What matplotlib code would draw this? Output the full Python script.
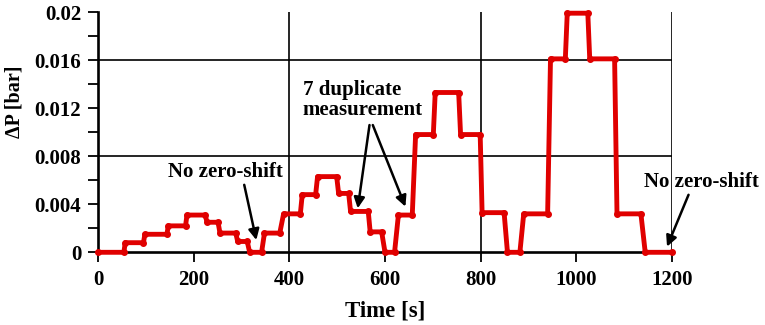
import matplotlib
matplotlib.use("Agg")
import matplotlib.pyplot as plt

# Breakpoints of the measured pressure-difference record (time [s], dP [bar])
time_s = [0, 54, 57, 95, 98, 144, 147, 183, 186, 224, 228, 251, 255, 288, 292,
          312, 317, 342, 348, 380, 388, 423, 427, 455, 459, 499, 503, 524, 528,
          565, 569, 593, 600, 620, 628, 657, 664, 701, 705, 754, 758, 799, 803,
          849, 856, 882, 890, 940, 946, 977, 981, 1024, 1028, 1080, 1085, 1135,
          1144, 1200]
dp_bar = [0, 0, 0.0008, 0.0008, 0.0015, 0.0015, 0.0022, 0.0022, 0.0031, 0.0031,
          0.0025, 0.0025, 0.0016, 0.0016, 0.0009, 0.0009, 0, 0, 0.0016, 0.0016,
          0.0032, 0.0032, 0.0048, 0.0048, 0.0063, 0.0063, 0.0049, 0.0049, 0.0034,
          0.0034, 0.0017, 0.0017, 0, 0, 0.0031, 0.0031, 0.0098, 0.0098, 0.0133,
          0.0133, 0.0098, 0.0098, 0.0033, 0.0033, 0, 0, 0.0032, 0.0032, 0.0161,
          0.0161, 0.0199, 0.0199, 0.0161, 0.0161, 0.0032, 0.0032, 0, 0]

x_ticks = [0, 200, 400, 600, 800, 1000, 1200]
y_ticks = [0, 0.004, 0.008, 0.012, 0.016, 0.02]
y_tick_labels = ["0", "0.004", "0.008", "0.012", "0.016", "0.02"]
x_grid = [400, 800, 1200]
y_grid = [0.008, 0.016]

plt.rcParams['font.family'] = ['Liberation Serif', 'DejaVu Serif']
plt.rcParams['font.weight'] = 'bold'

fig = plt.figure(figsize=(7.65, 3.25), dpi=100)
ax = fig.add_axes([98/765, 1-252.3/325, (672-98)/765, (252.3-12)/325])

for xg in x_grid:
    ax.axvline(xg, color='black', lw=1.2, zorder=1)
for yg in y_grid:
    ax.axhline(yg, color='black', lw=1.2, zorder=1)

ax.plot(time_s, dp_bar, color='#e00000', lw=3.5, marker='o', markersize=4,
        solid_joinstyle='round', solid_capstyle='round', zorder=3, clip_on=False)

ax.set_xlim(0, 1200)
ax.set_ylim(0, 0.02)
ax.set_xticks(x_ticks)
ax.set_xticklabels([str(v) for v in x_ticks])
ax.set_yticks(y_ticks)
ax.set_yticklabels(y_tick_labels)
ax.set_yticks([0.002, 0.006, 0.010, 0.014, 0.018], minor=True)

for s in ['top', 'right']:
    ax.spines[s].set_visible(False)
for s in ['left', 'bottom']:
    ax.spines[s].set_linewidth(1.9)
    ax.spines[s].set_zorder(2)

ax.tick_params(axis='both', which='both', direction='out', length=7, width=1.3,
               labelsize=15)
ax.tick_params(axis='x', pad=6)
ax.tick_params(axis='y', pad=5)
for lab in ax.get_xticklabels() + ax.get_yticklabels():
    lab.set_fontweight('bold')

fig.text(385/765, 1-311/325, "Time [s]", ha='center', va='center',
         fontsize=16.5, fontweight='bold')
fig.text(15/765, 1-102/325, "ΔP [bar]", ha='center', va='center',
         rotation=90, fontsize=14.5, fontweight='bold')

aprops = dict(arrowstyle='-|>', color='black', lw=1.8, mutation_scale=16,
              shrinkA=0, shrinkB=0)

ax.annotate("No zero-shift", xy=(331, 0.00102), xytext=(266, 0.00668),
            ha='center', va='center', fontsize=15, fontweight='bold',
            arrowprops=dict(aprops, relpos=(0.66, 0.0)))

ax.annotate("7 duplicate\nmeasurement", xy=(428, 0.01267), ha='left', va='center',
            fontsize=15, fontweight='bold', multialignment='left',
            linespacing=1.0)
ax.annotate("", xy=(543, 0.00366), xytext=(567.6, 0.01059), arrowprops=aprops)
ax.annotate("", xy=(642.7, 0.0038), xytext=(574.5, 0.01059), arrowprops=aprops)

ax.annotate("No zero-shift", xy=(1189.6, 0.00047), xytext=(1261, 0.00585),
            ha='center', va='center', fontsize=15, fontweight='bold',
            annotation_clip=False,
            arrowprops=dict(aprops, relpos=(0.4, 0.0)))

fig.savefig("out.png", dpi=100)
